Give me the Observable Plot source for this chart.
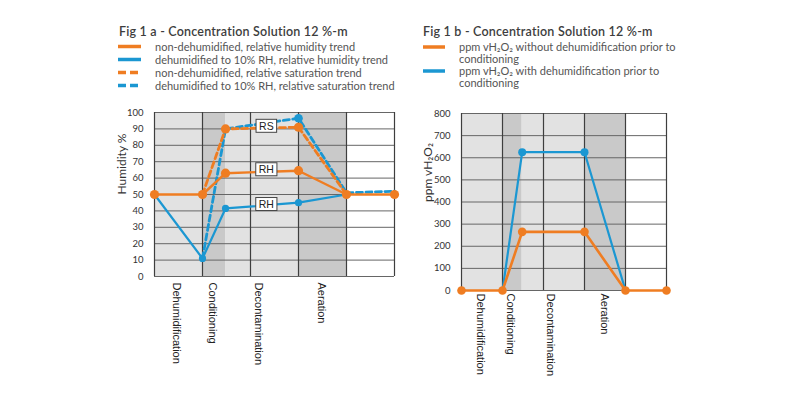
<!DOCTYPE html>
<html>
<head>
<meta charset="utf-8">
<script src="https://cdn.jsdelivr.net/npm/d3@7"></script>
<script src="https://cdn.jsdelivr.net/npm/@observablehq/plot@0.6"></script>
<style>
  html, body { margin: 0; padding: 0; background: #fff; }
  body { width: 800px; height: 399px; position: relative; overflow: hidden; font-family: Lato, "Open Sans", sans-serif; }
  .title { position: absolute; font-size: 12.5px; font-weight: 600; letter-spacing: 0.2px; color: #3d3d3d; line-height: 14px; white-space: nowrap; }
  .legend { position: absolute; font-size: 11px; color: #555; }
  .item { display: flex; align-items: flex-start; }
  .item svg { flex: none; }
  .item span { display: block; }
  .chart { position: absolute; }
</style>
</head>
<body>
<div class="title" id="titleA" style="left:119px; top:25px;"></div>
<div class="legend" id="legendA" style="left:118px; top:39.5px;"></div>
<div class="title" id="titleB" style="left:423px; top:25px;"></div>
<div class="legend" id="legendB" style="left:423px; top:41px; width:270px;"></div>
<div class="chart" id="chartA" style="left:100px; top:100px;"></div>
<div class="chart" id="chartB" style="left:400px; top:100px;"></div>
<script>
// ---------- data ----------
const titleA = "Fig 1 a - Concentration Solution 12 %-m";
const titleB = "Fig 1 b - Concentration Solution 12 %-m";

const phases = ["Dehumidification", "Conditioning", "Decontamination", "Aeration"];
const phaseLabelAt = [0.46, 1.2, 2.16, 3.48];

// phase boundaries (x in phase units) and shading tone
const bandStart = [0, 1, 1.48, 3];
const bandEnd   = [1, 1.48, 3, 4];
const bandTone  = ["light", "dark", "light", "dark"];

// time points
const timeSteps = [0, 1, 1.48, 3, 4, 5];

// Fig 1 a — humidity %
const namesA = [
  "non-dehumidified, relative humidity trend",
  "dehumidified to 10% RH, relative humidity trend",
  "non-dehumidified, relative saturation trend",
  "dehumidified to 10% RH, relative saturation trend"
];
const rhNonDehum = [50, 50, 63, 64.5, 50, 50];
const rhDehum    = [50, 11, 41.5, 45, 50, null];
const rsNonDehum = [null, 50, 90, 91, 50, null];
const rsDehum    = [null, 11, 90, 96.5, 51, 52];
const tagText = ["RS", "RH", "RH"];
const tagX = [2.33, 2.33, 2.33];
const tagY = [91.5, 65, 43.8];
const yTicksA = d3.range(0, 101, 10);

// Fig 1 b — ppm vH2O2
const namesB = [
  "ppm vH₂O₂ without dehumidification prior to conditioning",
  "ppm vH₂O₂ with dehumidification prior to conditioning"
];
const ppmNonDehum = [0, 0, 265, 265, 0, 0];
const ppmDehum    = [null, 0, 625, 625, 0, null];
const yTicksB = d3.range(0, 801, 100);

// ---------- styles ----------
const ORANGE = "#ef7d22";
const BLUE = "#1b97d2";
const TONES = {light: "#e2e2e2", dark: "#c9c9c9"};

// ---------- helpers ----------
function pts(ys) {
  return timeSteps.map((x, i) => ({x, y: ys[i]})).filter(d => d.y != null);
}
function pick(ys, idx) {
  return idx.map(i => ({x: timeSteps[i], y: ys[i]}));
}
const bands = bandStart.map((s, i) => ({x1: s, x2: bandEnd[i], tone: bandTone[i]}));

function legend(el, names, colors, dashed, wrapWidth) {
  const root = document.getElementById(el);
  names.forEach((n, i) => {
    const row = document.createElement("div");
    row.className = "item";
    row.style.lineHeight = wrapWidth ? "12px" : "13px";
    if (wrapWidth) row.style.marginBottom = "0.4px";
    const w = wrapWidth ? 22 : 23;
    const h = wrapWidth ? 12 : 13;
    row.innerHTML =
      `<svg width="${w}" height="${h}" style="margin-right:14px"><line x1="0" x2="${w}" y1="${h/2}" y2="${h/2}" stroke="${colors[i]}" stroke-width="3.5" ${dashed[i] ? 'stroke-dasharray="8,4"' : ""}/></svg>` +
      `<span style="${wrapWidth ? `width:${wrapWidth}px` : "white-space:nowrap"}">${n}</span>`;
    root.appendChild(row);
  });
}

function baseMarks(yTicks, yMax, yLabel, labelOffset, xPad) {
  return [
    Plot.rect(bands, {x1: "x1", x2: "x2", y1: 0, y2: yMax, fill: d => TONES[d.tone]}),
    Plot.ruleY(yTicks, {stroke: "#666", strokeWidth: 1}),
    Plot.ruleX([0, 1, 2, 3, 4, 5], {stroke: "#3e3e3e", strokeWidth: 1.2}),
    Plot.axisY({ticks: yTicks, tickSize: 0, tickPadding: 11, fontSize: 9.5, fill: "#333", label: null}),
    Plot.text([yLabel], {frameAnchor: "left", rotate: -90, dx: -labelOffset, fontSize: 12, fill: "#333", fontFamily: "Lato, sans-serif"}),
    Plot.axisX({
      ticks: phaseLabelAt,
      tickFormat: d => phases[phaseLabelAt.indexOf(d)],
      tickRotate: 90, tickSize: 0, tickPadding: xPad,
      fontSize: 11, fontFamily: "'Liberation Sans', Arial, sans-serif", fill: "#222", label: null
    })
  ];
}

// ---------- Fig 1 a ----------
legend("legendA", namesA, [ORANGE, BLUE, ORANGE, BLUE], [false, false, true, true], null);
document.getElementById("titleA").textContent = titleA;

const plotA = Plot.plot({
  width: 310, height: 280,
  marginLeft: 54, marginRight: 16, marginTop: 12, marginBottom: 104,
  x: {domain: [0, 5], axis: null},
  y: {domain: [0, 100], axis: null},
  style: {fontFamily: "Lato, sans-serif", background: "transparent", overflow: "visible"},
  marks: [
    ...baseMarks(yTicksA, 100, "Humidity %", 32, 6),
    Plot.line(pts(rsDehum), {x: "x", y: "y", stroke: BLUE, strokeWidth: 2.8, strokeDasharray: "6,3.5"}),
    Plot.line(pts(rhDehum), {x: "x", y: "y", stroke: BLUE, strokeWidth: 2.2}),
    Plot.line(pts(rsNonDehum), {x: "x", y: "y", stroke: ORANGE, strokeWidth: 2.8, strokeDasharray: "6,3.5"}),
    Plot.line(pts(rhNonDehum), {x: "x", y: "y", stroke: ORANGE, strokeWidth: 2.4}),
    Plot.dot(pick(rhDehum, [1, 2, 3]), {x: "x", y: "y", r: 3.6, fill: BLUE}),
    Plot.dot(pick(rsDehum, [3]), {x: "x", y: "y", r: 4.3, fill: BLUE}),
    Plot.dot(pick(rsNonDehum, [2, 3]), {x: "x", y: "y", r: 4.6, fill: ORANGE}),
    Plot.dot(pts(rhNonDehum), {x: "x", y: "y", r: 4.6, fill: ORANGE}),
    Plot.text(tagText, {x: (d, i) => tagX[i], y: (d, i) => tagY[i], text: d => d, fontSize: 10.5, fill: "#222", fontFamily: "'Liberation Sans', Arial, sans-serif"})
  ]
});
document.getElementById("chartA").appendChild(plotA);

// boxes behind tag labels
plotA.querySelectorAll('g[aria-label="text"] text').forEach(t => {
  if (!tagText.includes(t.textContent)) return;
  const b = t.getBBox();
  const r = document.createElementNS("http://www.w3.org/2000/svg", "rect");
  r.setAttribute("x", b.x - 3); r.setAttribute("y", b.y - 0.5);
  r.setAttribute("width", b.width + 6); r.setAttribute("height", b.height + 1);
  r.setAttribute("fill", "#fff"); r.setAttribute("stroke", "#444"); r.setAttribute("stroke-width", "1");
  if (t.getAttribute("transform")) r.setAttribute("transform", t.getAttribute("transform"));
  t.parentNode.insertBefore(r, t);
});

// ---------- Fig 1 b ----------
legend("legendB", namesB, [ORANGE, BLUE], [false, false], 232);
document.getElementById("titleB").textContent = titleB;

const plotB = Plot.plot({
  width: 280, height: 298,
  marginLeft: 61, marginRight: 14, marginTop: 13, marginBottom: 108,
  x: {domain: [0, 5], axis: null},
  y: {domain: [0, 800], axis: null},
  style: {fontFamily: "Lato, sans-serif", background: "transparent", overflow: "visible"},
  marks: [
    ...baseMarks(yTicksB, 800, "ppm vH₂O₂", 33, 3),
    Plot.line(pts(ppmDehum), {x: "x", y: "y", stroke: BLUE, strokeWidth: 2.2}),
    Plot.line(pts(ppmNonDehum), {x: "x", y: "y", stroke: ORANGE, strokeWidth: 2.6}),
    Plot.dot(pick(ppmDehum, [2, 3]), {x: "x", y: "y", r: 4, fill: BLUE}),
    Plot.dot(pts(ppmNonDehum), {x: "x", y: "y", r: 4.3, fill: ORANGE})
  ]
});
document.getElementById("chartB").appendChild(plotB);
</script>
</body>
</html>
